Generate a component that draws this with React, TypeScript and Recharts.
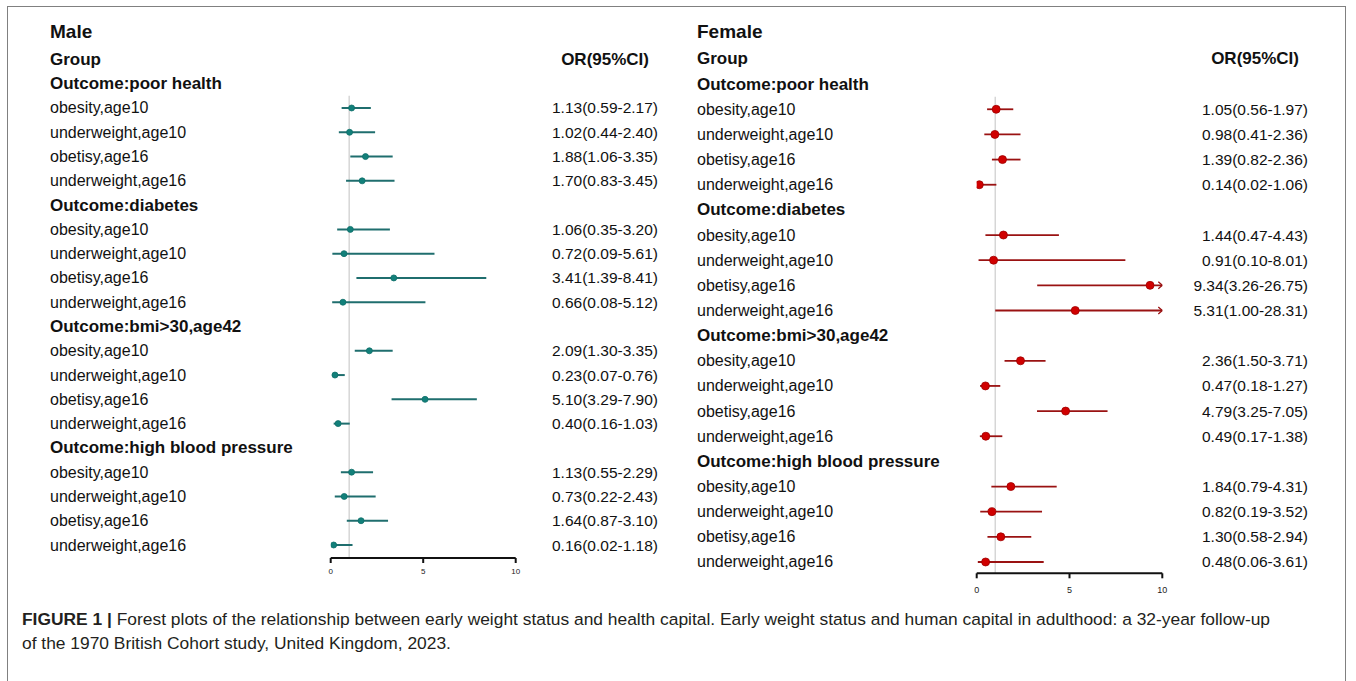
import React from 'react';
import { ScatterChart, Scatter, XAxis, YAxis, ErrorBar, ReferenceLine } from 'recharts';

const FONT = '"Liberation Sans", Arial, sans-serif';
const X_MAX = 10;

const outcomes = ['poor health', 'diabetes', 'bmi>30,age42', 'high blood pressure'];
const groups = ['obesity,age10', 'underweight,age10', 'obetisy,age16', 'underweight,age16'];
const xTicks = [0, 5, 10];

// male: odds ratio, lower and upper CI, in the order outcome x group
const maleOR = [1.13, 1.02, 1.88, 1.7, 1.06, 0.72, 3.41, 0.66, 2.09, 0.23, 5.1, 0.4, 1.13, 0.73, 1.64, 0.16];
const maleLow = [0.59, 0.44, 1.06, 0.83, 0.35, 0.09, 1.39, 0.08, 1.3, 0.07, 3.29, 0.16, 0.55, 0.22, 0.87, 0.02];
const maleHigh = [2.17, 2.4, 3.35, 3.45, 3.2, 5.61, 8.41, 5.12, 3.35, 0.76, 7.9, 1.03, 2.29, 2.43, 3.1, 1.18];

const femaleOR = [1.05, 0.98, 1.39, 0.14, 1.44, 0.91, 9.34, 5.31, 2.36, 0.47, 4.79, 0.49, 1.84, 0.82, 1.3, 0.48];
const femaleLow = [0.56, 0.41, 0.82, 0.02, 0.47, 0.1, 3.26, 1.0, 1.5, 0.18, 3.25, 0.17, 0.79, 0.19, 0.58, 0.06];
const femaleHigh = [1.97, 2.36, 2.36, 1.06, 4.43, 8.01, 26.75, 28.31, 3.71, 1.27, 7.05, 1.38, 4.31, 3.52, 2.94, 3.61];

type Row = { y: number; or: number; lo: number; hi: number; err: [number, number] };
type Label = { label: string; value: string; bold: boolean; header?: boolean };

function buildRows(or: number[], lo: number[], hi: number[]) {
    const rows: Row[] = [];
    const labels: Record<number, Label> = {
        [-1]: { label: 'Group', value: 'OR(95%CI)', bold: true, header: true },
    };
    outcomes.forEach((o, k) => {
        labels[k * 5] = { label: `Outcome:${o}`, value: '', bold: true };
        groups.forEach((g, j) => {
            const i = k * 4 + j;
            const y = k * 5 + j + 1;
            rows.push({ y, or: or[i], lo: lo[i], hi: hi[i], err: [or[i] - lo[i], Math.min(hi[i], X_MAX) - or[i]] });
            labels[y] = {
                label: g,
                value: `${or[i].toFixed(2)}(${lo[i].toFixed(2)}-${hi[i].toFixed(2)})`,
                bold: false,
            };
        });
    });
    return { rows, labels };
}

const tickIdx = Array.from({ length: 21 }, (_, i) => i - 1);

interface PanelProps {
    title: string;
    or: number[];
    lo: number[];
    hi: number[];
    left: number;
    width: number;
    height: number;
    top: number;
    bottom: number;
    plotLeft: number;
    plotRight: number;
    yMax: number;
    labelX: number;
    valueX: number;
    dot: string;
    dotStroke: string;
    line: string;
    lineWidth: number;
    r: number;
    axisFont: number;
    axisGap: number;
}

function ForestPanel(p: PanelProps) {
    const { rows, labels } = buildRows(p.or, p.lo, p.hi);
    const clipped = rows.filter((r) => r.hi > X_MAX).map((r) => ({ y: r.y, or: X_MAX }));

    const renderTick = (props: any) => {
        const item = labels[props.payload.value];
        if (!item) return <g />;
        return (
            <g>
                <text
                    x={p.labelX}
                    y={props.y}
                    dominantBaseline="central"
                    fontFamily={FONT}
                    fontSize={item.bold ? 17 : 16}
                    fontWeight={item.bold ? 'bold' : 'normal'}
                    fill="#111"
                >
                    {item.label}
                </text>
                {item.value && (
                    <text
                        x={item.header ? p.valueX - 9 : p.valueX}
                        y={props.y}
                        dominantBaseline="central"
                        textAnchor="end"
                        fontFamily={FONT}
                        fontSize={item.header ? 17 : 15.5}
                        fontWeight={item.bold ? 'bold' : 'normal'}
                        fill="#111"
                    >
                        {item.value}
                    </text>
                )}
            </g>
        );
    };

    return (
        <div style={{ position: 'absolute', left: p.left, top: 0 }}>
            <div
                style={{
                    position: 'absolute',
                    left: p.labelX,
                    top: 21,
                    fontFamily: FONT,
                    fontSize: 19,
                    lineHeight: '22px',
                    fontWeight: 'bold',
                    color: '#111',
                }}
            >
                {p.title}
            </div>
            <ScatterChart
                width={p.width}
                height={p.height}
                margin={{ top: p.top, right: p.width - p.plotRight, bottom: p.bottom, left: 0 }}
            >
                <XAxis
                    type="number"
                    dataKey="or"
                    domain={[0, X_MAX]}
                    ticks={xTicks}
                    allowDataOverflow
                    height={30}
                    axisLine={{ stroke: '#111', strokeWidth: 2 }}
                    tickLine={{ stroke: '#111', strokeWidth: 2 }}
                    tickSize={5}
                    tickMargin={p.axisGap}
                    tick={{ fontSize: p.axisFont, fill: '#222', fontFamily: FONT }}
                />
                <YAxis
                    type="number"
                    dataKey="y"
                    domain={[-1.5, p.yMax]}
                    reversed
                    allowDataOverflow
                    ticks={tickIdx}
                    interval={0}
                    width={p.plotLeft}
                    axisLine={false}
                    tickLine={false}
                    tick={renderTick}
                />
                <ReferenceLine
                    segment={[
                        { x: 1, y: 0.5 },
                        { x: 1, y: p.yMax },
                    ]}
                    stroke="#d6d6d6"
                    strokeWidth={1.5}
                />
                <Scatter
                    data={rows}
                    isAnimationActive={false}
                    shape={(s: any) => (
                        <circle cx={s.cx} cy={s.cy} r={p.r} fill={p.dot} stroke={p.dotStroke} strokeWidth={0.8} />
                    )}
                >
                    <ErrorBar dataKey="err" direction="x" width={0} stroke={p.line} strokeWidth={p.lineWidth} />
                </Scatter>
                <Scatter
                    data={clipped}
                    isAnimationActive={false}
                    shape={(s: any) => (
                        <path
                            d={`M${s.cx - 4},${s.cy - 3.5} L${s.cx},${s.cy} L${s.cx - 4},${s.cy + 3.5}`}
                            fill="none"
                            stroke={p.line}
                            strokeWidth={1.3}
                        />
                    )}
                />
            </ScatterChart>
        </div>
    );
}

export default function App() {
    return (
        <div
            style={{
                position: 'absolute',
                left: 0,
                top: 0,
                width: 1356,
                height: 681,
                overflow: 'hidden',
                background: '#fff',
            }}
        >
            <div
                style={{
                    position: 'absolute',
                    left: 7,
                    top: 6,
                    width: 1337,
                    height: 700,
                    border: '1px solid #808080',
                }}
            />
            <ForestPanel
                title="Male"
                or={maleOR}
                lo={maleLow}
                hi={maleHigh}
                left={0}
                width={660}
                height={600}
                top={47.3}
                bottom={12}
                plotLeft={330.7}
                plotRight={515.7}
                yMax={19.535}
                labelX={50}
                valueX={658}
                dot="#12807a"
                dotStroke="#0f6f6a"
                line="#1f6e6e"
                lineWidth={2}
                r={3}
                axisFont={8}
                axisGap={5}
            />
            <ForestPanel
                title="Female"
                or={femaleOR}
                lo={femaleLow}
                hi={femaleHigh}
                left={660}
                width={660}
                height={615}
                top={46.4}
                bottom={11.7}
                plotLeft={316.7}
                plotRight={502.3}
                yMax={19.45}
                labelX={37}
                valueX={648}
                dot="#d00000"
                dotStroke="#a00000"
                line="#9a1212"
                lineWidth={1.8}
                r={4}
                axisFont={9}
                axisGap={8}
            />
            <div
                style={{
                    position: 'absolute',
                    left: 22,
                    top: 607,
                    fontFamily: FONT,
                    fontSize: 17.4,
                    lineHeight: '24px',
                    color: '#231f20',
                    whiteSpace: 'nowrap',
                }}
            >
                <b>FIGURE 1 | </b>Forest plots of the relationship between early weight status and health capital. Early
                weight status and human capital in adulthood: a 32-year follow-up
                <br />
                of the 1970 British Cohort study, United Kingdom, 2023.
            </div>
        </div>
    );
}
